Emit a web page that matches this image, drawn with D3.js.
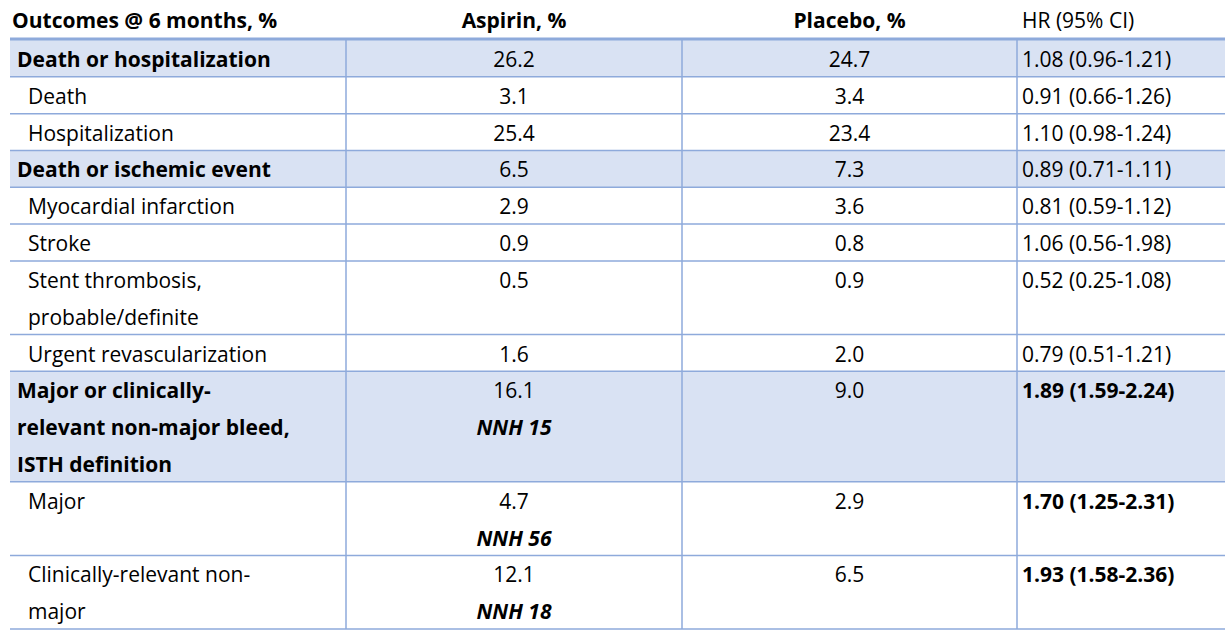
<!DOCTYPE html>
<html><head><meta charset="utf-8">
<script src="https://cdn.jsdelivr.net/npm/d3@7"></script>
<style>body{margin:0;background:#fff}</style></head>
<body><svg id="c" width="1225" height="641"></svg>
<script>
const headers = ["Outcomes @ 6 months, %", "Aspirin, %", "Placebo, %", "HR (95% CI)"];
const outcomes = [
  ["Death or hospitalization"], ["Death"], ["Hospitalization"], ["Death or ischemic event"],
  ["Myocardial infarction"], ["Stroke"], ["Stent thrombosis,", "probable/definite"],
  ["Urgent revascularization"], ["Major or clinically-", "relevant non-major bleed,", "ISTH definition"],
  ["Major"], ["Clinically-relevant non-", "major"]
];
const rowLevel = ["main","sub","sub","main","sub","sub","sub","sub","main","sub","sub"];
const aspirin = ["26.2","3.1","25.4","6.5","2.9","0.9","0.5","1.6","16.1","4.7","12.1"];
const placebo = ["24.7","3.4","23.4","7.3","3.6","0.8","0.9","2.0","9.0","2.9","6.5"];
const hr = ["1.08 (0.96-1.21)","0.91 (0.66-1.26)","1.10 (0.98-1.24)","0.89 (0.71-1.11)","0.81 (0.59-1.12)",
  "1.06 (0.56-1.98)","0.52 (0.25-1.08)","0.79 (0.51-1.21)","1.89 (1.59-2.24)","1.70 (1.25-2.31)","1.93 (1.58-2.36)"];
const hrSignificant = [false,false,false,false,false,false,false,false,true,true,true];
const nnh = ["","","","","","","","","NNH 15","NNH 56","NNH 18"];

const svg = d3.select("#c");
const font = "'Open Sans', sans-serif";
const fill = "#d9e2f3", stroke = "#8eaadb";
const colX = d3.scaleOrdinal().domain([0,1,2,3,4]).range([10,346,682,1017,1225]);
const lines = outcomes.map((o,i)=>Math.max(o.length, nnh[i]?2:1));
const cum = [0]; lines.forEach(l=>cum.push(cum[cum.length-1]+l));
const y = d3.scaleLinear().domain([0, cum[cum.length-1]]).range([40,629]);
const lh = (629-40)/cum[cum.length-1];

outcomes.forEach((o,i)=>{
  if(rowLevel[i]==="main") svg.append("rect").attr("x",colX(0)).attr("y",y(cum[i])).attr("width",colX(4)-colX(0)).attr("height",y(cum[i+1])-y(cum[i])).attr("fill",fill);
});
cum.forEach((c,k)=>{ if(k>0) svg.append("line").attr("x1",colX(0)).attr("x2",colX(4)).attr("y1",y(c)).attr("y2",y(c)).attr("stroke",stroke).attr("stroke-width",1.5); });
svg.append("line").attr("x1",colX(0)).attr("x2",colX(4)).attr("y1",39).attr("y2",39).attr("stroke",stroke).attr("stroke-width",3);
[1,2,3].forEach(c=>svg.append("line").attr("x1",colX(c)).attr("x2",colX(c)).attr("y1",40).attr("y2",629).attr("stroke",stroke).attr("stroke-width",1.5));

const fs = 21;
svg.append("text").attr("x",12).attr("y",28).text(headers[0]).attr("font-weight","bold");
svg.append("text").attr("x",(colX(1)+colX(2))/2).attr("y",28).attr("text-anchor","middle").attr("font-weight","bold").text(headers[1]);
svg.append("text").attr("x",(colX(2)+colX(3))/2).attr("y",28).attr("text-anchor","middle").attr("font-weight","bold").text(headers[2]);
svg.append("text").attr("x",colX(3)+5).attr("y",28).text(headers[3]);

outcomes.forEach((o,i)=>{
  const top = y(cum[i]);
  const bl = k=>top + lh*k + 27;
  o.forEach((t,k)=>svg.append("text").attr("x",rowLevel[i]==="main"?17:28).attr("y",bl(k)).attr("font-weight",rowLevel[i]==="main"?"bold":"normal").text(t));
  svg.append("text").attr("x",(colX(1)+colX(2))/2).attr("y",bl(0)).attr("text-anchor","middle").text(aspirin[i]);
  if(nnh[i]) svg.append("text").attr("x",(colX(1)+colX(2))/2).attr("y",bl(1)).attr("text-anchor","middle").attr("font-weight","bold").attr("font-style","italic").text(nnh[i]);
  svg.append("text").attr("x",(colX(2)+colX(3))/2).attr("y",bl(0)).attr("text-anchor","middle").text(placebo[i]);
  svg.append("text").attr("x",colX(3)+5).attr("y",bl(0)).attr("font-weight",hrSignificant[i]?"bold":"normal").text(hr[i]);
});
svg.selectAll("text").attr("font-family",font).attr("font-size",fs).attr("fill","#000");
</script></body></html>
